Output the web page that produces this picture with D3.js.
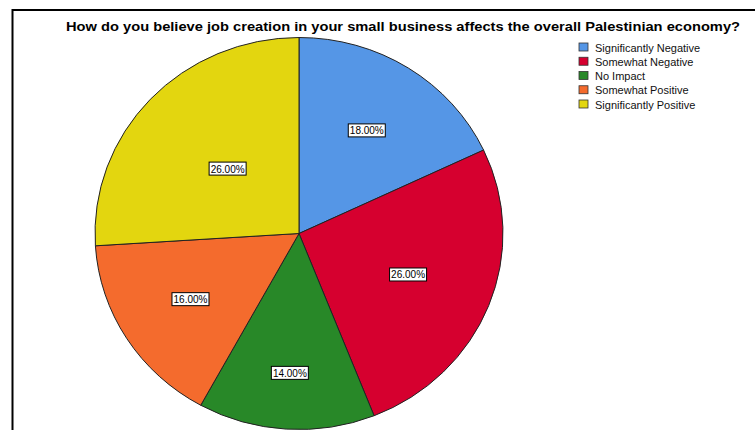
<!DOCTYPE html>
<html>
<head>
<meta charset="utf-8">
<script src="https://cdn.jsdelivr.net/npm/d3@7"></script>
<style>
  body { margin: 0; background: #fff; }
  svg { display: block; font-family: Arial, "Liberation Sans", sans-serif; }
</style>
</head>
<body>
<svg id="chart" width="755" height="430"></svg>
<script>
// answers, in the order they go round the pie (clockwise from 12 o'clock)
var categories = ["Significantly Negative", "Somewhat Negative", "No Impact", "Somewhat Positive", "Significantly Positive"];
var percents = [18, 26, 14, 16, 26];
var colors = ["#5596E6", "#D6002F", "#288828", "#F46B2D", "#E3D60F"];
var title = "How do you believe job creation in your small business affects the overall Palestinian economy?";

// where each value label sits, as a share of the radius (SPSS put them by hand)
var labelRadius = [0.62, 0.575, 0.715, 0.63, 0.48];

var svg = d3.select("#chart");

// outer frame (right and bottom edges run off the picture)
svg.append("rect")
    .attr("x", 12.5).attr("y", 10)
    .attr("width", 800).attr("height", 500)
    .attr("fill", "none")
    .attr("stroke", "#000")
    .attr("stroke-width", 2);

svg.append("text")
    .attr("x", 403).attr("y", 31)
    .attr("text-anchor", "middle")
    .attr("font-size", 12.5)
    .attr("font-weight", "bold")
    .attr("textLength", 674)
    .attr("lengthAdjust", "spacingAndGlyphs")
    .text(title);

var rx = 204, ry = 196;
var cx = 299, cy = 233.5;

var pie = d3.pie().sort(null).value(function(d) { return d; });
var arcs = pie(percents);

var arc = d3.arc().innerRadius(0).outerRadius(rx);

var g = svg.append("g")
    .attr("transform", "translate(" + cx + "," + cy + ") scale(1," + (ry / rx) + ")");

g.selectAll("path")
    .data(arcs)
    .enter().append("path")
    .attr("d", arc)
    .attr("fill", function(d, i) { return colors[i]; })
    .attr("stroke", "#222")
    .attr("stroke-width", 1)
    .attr("vector-effect", "non-scaling-stroke");

var labels = svg.append("g")
    .attr("transform", "translate(" + cx + "," + cy + ")")
    .selectAll("g")
    .data(arcs)
    .enter().append("g")
    .attr("transform", function(d, i) {
        var r = rx * labelRadius[i];
        var c = d3.arc().innerRadius(r).outerRadius(r).centroid(d);
        return "translate(" + c[0] + "," + (c[1] * ry / rx) + ")";
    });

labels.append("rect")
    .attr("x", -18.5).attr("y", -7)
    .attr("width", 37).attr("height", 13)
    .attr("fill", "#fff")
    .attr("stroke", "#000")
    .attr("stroke-width", 1);

labels.append("text")
    .attr("text-anchor", "middle")
    .attr("y", 3.5)
    .attr("font-size", 10)
    .text(function(d) { return d3.format(".2f")(d.data) + "%"; });

// legend
var legend = svg.append("g")
    .selectAll("g")
    .data(categories)
    .enter().append("g")
    .attr("transform", function(d, i) { return "translate(579," + (43 + i * 14.25) + ")"; });

legend.append("rect")
    .attr("width", 9).attr("height", 8)
    .attr("fill", function(d, i) { return colors[i]; })
    .attr("stroke", "#333")
    .attr("stroke-width", 0.8);

legend.append("text")
    .attr("x", 16).attr("y", 8.5)
    .attr("font-size", 11)
    .attr("fill", "#111")
    .text(function(d) { return d; });
</script>
</body>
</html>
